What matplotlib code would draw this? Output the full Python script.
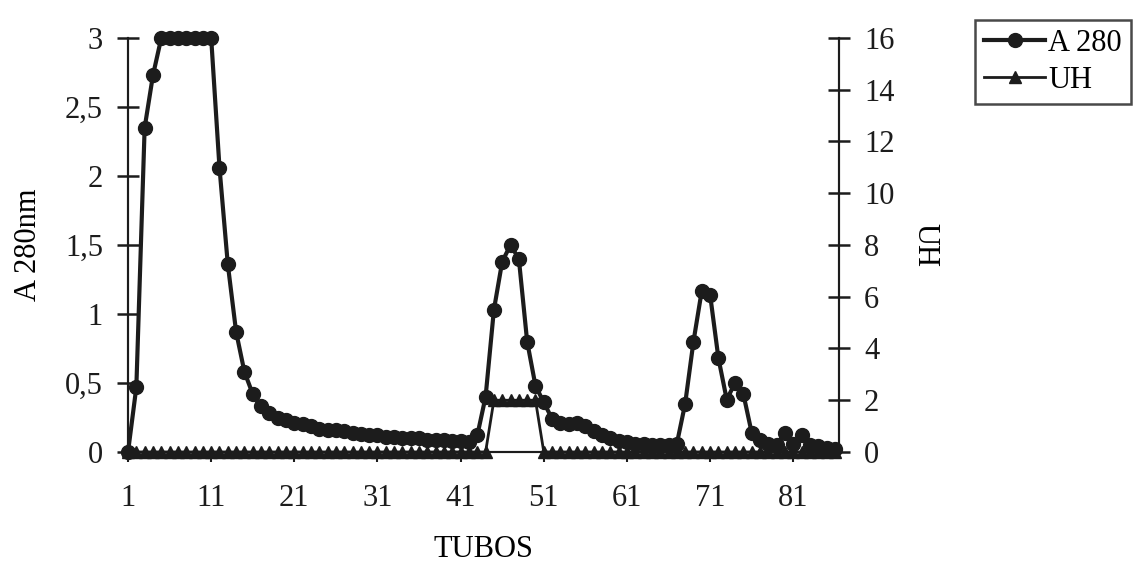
import matplotlib
matplotlib.use('Agg')
import matplotlib.pyplot as plt
import numpy as np

# tubos 1..86
tubos = list(range(1, 87))

# absorbancia a 280 nm
a280 = [0.0, 0.47, 2.35, 2.73, 3.0, 3.0, 3.0, 3.0, 3.0, 3.0,
        3.0, 2.06, 1.36, 0.87, 0.58, 0.42, 0.33, 0.28, 0.25, 0.23,
        0.21, 0.20, 0.19, 0.17, 0.16, 0.16, 0.15, 0.14, 0.13, 0.12,
        0.12, 0.11, 0.11, 0.10, 0.10, 0.10, 0.09, 0.09, 0.09, 0.08,
        0.08, 0.07, 0.12, 0.40, 1.03, 1.38, 1.50, 1.40, 0.80, 0.48,
        0.36, 0.24, 0.21, 0.20, 0.21, 0.19, 0.15, 0.12, 0.10, 0.08,
        0.07, 0.06, 0.06, 0.05, 0.05, 0.05, 0.06, 0.35, 0.80, 1.17,
        1.14, 0.68, 0.38, 0.50, 0.42, 0.14, 0.09, 0.06, 0.05, 0.14,
        0.06, 0.12, 0.05, 0.04, 0.03, 0.02]

# unidades hemoliticas
uh = [0] * 44 + [2] * 6 + [0] * 36

left_ticks = [0, 0.5, 1, 1.5, 2, 2.5, 3]
left_labels = ['0', '0,5', '1', '1,5', '2', '2,5', '3']
right_ticks = [0, 2, 4, 6, 8, 10, 12, 14, 16]
x_ticks = [1, 11, 21, 31, 41, 51, 61, 71, 81]

plt.rcParams['font.family'] = ['Liberation Serif', 'DejaVu Serif']
fs = 22
ink = '#1c1c1c'

fig = plt.figure(figsize=(11.39, 5.71), dpi=100)
ax = fig.add_axes([0.1124, 0.2084, 0.6242, 0.7251])
ax2 = ax.twinx()

ax.plot(tubos, a280, color=ink, lw=3, marker='o', ms=10, zorder=3,
        clip_on=False, label='A 280')
ax2.plot(tubos, uh, color=ink, lw=2, marker='^', ms=9, zorder=2,
         clip_on=False, label='UH')

ax.set_xlim(1, 86.5)
ax.set_ylim(0, 3)
ax2.set_ylim(0, 16)

ax.set_xticks(x_ticks)
ax.set_xticklabels([str(t) for t in x_ticks], fontsize=fs)
ax.set_yticks(left_ticks)
ax.set_yticklabels(left_labels, fontsize=fs)
ax2.set_yticks(right_ticks)
ax2.set_yticklabels([str(t) for t in right_ticks], fontsize=fs)

for a in (ax, ax2):
    a.spines['top'].set_visible(False)
    for s in ('left', 'right', 'bottom'):
        a.spines[s].set_linewidth(1.5)
        a.spines[s].set_color(ink)
ax.tick_params(axis='x', direction='out', length=7, width=1.5, pad=16, colors=ink)
ax.tick_params(axis='y', direction='inout', length=16, width=1.8, pad=10, colors=ink)
ax2.tick_params(axis='y', direction='inout', length=16, width=1.8, pad=10, colors=ink)

ax.set_xlabel('TUBOS', fontsize=fs, labelpad=16)
ax.set_ylabel('A 280nm', fontsize=fs, labelpad=16)
ax2.set_ylabel('UH', fontsize=fs, rotation=270, labelpad=22, va='center')

ax.set_zorder(ax2.get_zorder() + 1)
ax.patch.set_visible(False)

h1, l1 = ax.get_legend_handles_labels()
h2, l2 = ax2.get_legend_handles_labels()
leg = fig.legend(h1 + h2, l1 + l2, loc='upper left', bbox_to_anchor=(0.856, 0.965),
                 fontsize=fs, frameon=True, fancybox=False, handlelength=2.0,
                 handletextpad=0.1, borderpad=0.3, labelspacing=0.25, borderaxespad=0)
leg.get_frame().set_edgecolor(ink)
leg.get_frame().set_linewidth(1.8)

fig.savefig('out.png', dpi=100)
